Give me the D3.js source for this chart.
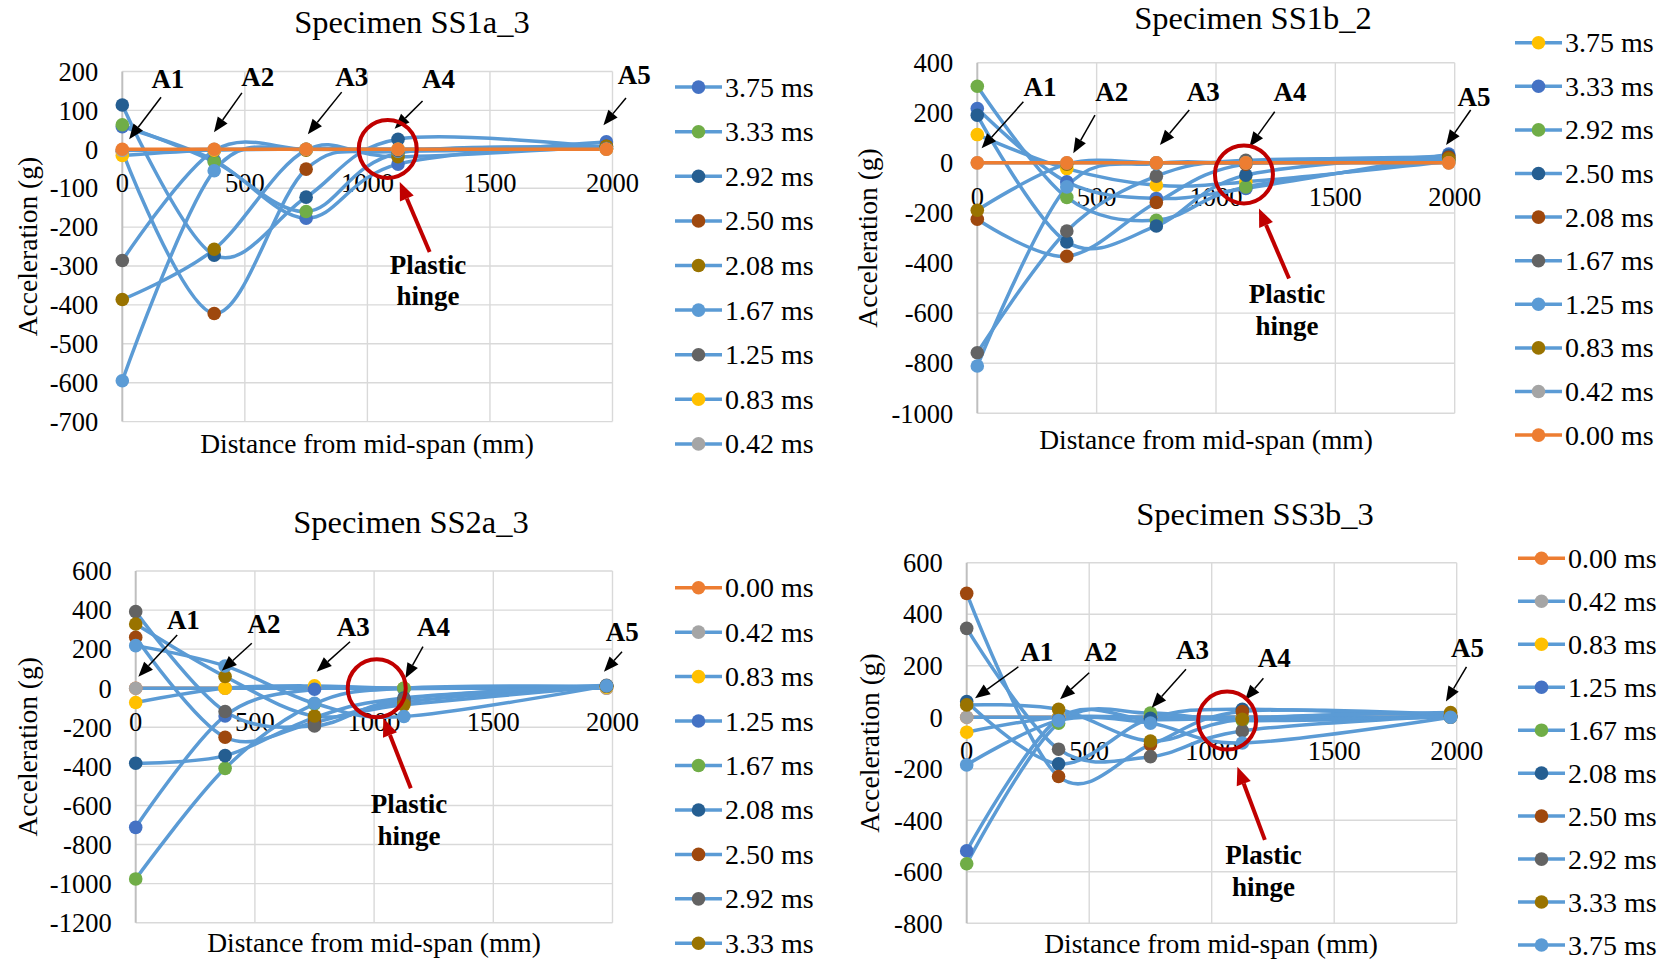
<!DOCTYPE html>
<html lang="en">
<head>
<meta charset="UTF-8">
<title>Acceleration along the span</title>
<script src="https://d3js.org/d3.v7.min.js"></script>
<style>
  body { margin: 0; background: #fff; }
  text { font-family: "Liberation Serif", "Times New Roman", serif; fill: #000; }
</style>
</head>
<body>
<div id="chart"></div>
<script>
// accelerometer positions A1..A5, distance from mid-span (mm)
const distances = [0, 375, 750, 1125, 1975];
const sensorNames = ["A1", "A2", "A3", "A4", "A5"];
const xTicks = [0, 500, 1000, 1500, 2000];

// excel-ish palette
const C = {
  blue: "#4472C4", orange: "#ED7D31", gray: "#A5A5A5", yellow: "#FFC000",
  lblue: "#5B9BD5", green: "#70AD47", dblue: "#255E91", brown: "#9E480E",
  dgray: "#636363", olive: "#997300"
};

// ---- SS1a_3 ----
const ss1aTimes = ["3.75 ms", "3.33 ms", "2.92 ms", "2.50 ms", "2.08 ms", "1.67 ms", "1.25 ms", "0.83 ms", "0.42 ms", "0.00 ms"];
const ss1aMarkers = [C.blue, C.green, C.dblue, C.brown, C.olive, C.lblue, C.dgray, C.yellow, C.gray, C.orange];
const ss1aValues = [
  [58, -28, -177, -38, 19],
  [63, -32, -160, -10, 2],
  [114, -272, -123, 26, 5],
  [-5, -422, -51, -5, 8],
  [-386, -257, -2, -19, 8],
  [-595, -55, 0, -5, 2],
  [-286, -3, 0, -3, 2],
  [-16, -2, 0, 0, 0],
  [-3, 0, 0, 0, 0],
  [0, 0, 0, 0, 0]
];
const ss1aYTicks = [200, 100, 0, -100, -200, -300, -400, -500, -600, -700];

// ---- SS1b_2 ----
const ss1bTimes = ["3.75 ms", "3.33 ms", "2.92 ms", "2.50 ms", "2.08 ms", "1.67 ms", "1.25 ms", "0.83 ms", "0.42 ms", "0.00 ms"];
const ss1bMarkers = [C.yellow, C.blue, C.green, C.dblue, C.brown, C.dgray, C.lblue, C.olive, C.gray, C.orange];
const ss1bValues = [
  [113, -23, -89, -76, 5],
  [217, -76, -142, -102, 35],
  [306, -138, -229, -96, 12],
  [190, -316, -252, -49, 28],
  [-225, -373, -158, -5, 22],
  [-758, -272, -53, 10, 12],
  [-811, -96, -3, 0, 3],
  [-189, -5, 0, 0, 16],
  [0, 0, 0, 0, 0],
  [0, 0, 0, 0, 0]
];
const ss1bYTicks = [400, 200, 0, -200, -400, -600, -800, -1000];

// ---- SS2a_3 ----
const ss2aTimes = ["0.00 ms", "0.42 ms", "0.83 ms", "1.25 ms", "1.67 ms", "2.08 ms", "2.50 ms", "2.92 ms", "3.33 ms", "3.75 ms"];
const ss2aMarkers = [C.orange, C.gray, C.yellow, C.blue, C.green, C.dblue, C.brown, C.dgray, C.olive, C.lblue];
const ss2aValues = [
  [0, 0, 0, 0, 0],
  [0, 0, 0, 0, 0],
  [-73, 0, 12, 0, 5],
  [-712, -142, -5, -3, 10],
  [-976, -410, -80, 0, 10],
  [-384, -345, -150, -50, 12],
  [261, -251, -175, -70, 10],
  [392, -119, -193, -55, 15],
  [329, 60, -142, -85, 10],
  [218, 114, -77, -145, 12]
];
const ss2aYTicks = [600, 400, 200, 0, -200, -400, -600, -800, -1000, -1200];

// ---- SS3b_3 ----
const ss3bTimes = ["0.00 ms", "0.42 ms", "0.83 ms", "1.25 ms", "1.67 ms", "2.08 ms", "2.50 ms", "2.92 ms", "3.33 ms", "3.75 ms"];
const ss3bMarkers = [C.orange, C.gray, C.yellow, C.blue, C.green, C.dblue, C.brown, C.dgray, C.olive, C.lblue];
const ss3bValues = [
  [0, 0, 0, 0, 0],
  [0, 0, 0, 0, 0],
  [-58, 0, 0, 0, 0],
  [-519, -5, -10, -5, 0],
  [-569, -23, 16, -13, 2],
  [61, -181, -4, 31, 5],
  [481, -230, -107, 22, 10],
  [345, -124, -153, -53, 5],
  [48, 31, -92, -8, 18],
  [-185, -13, -23, -100, 0]
];
const ss3bYTicks = [600, 400, 200, 0, -200, -400, -600, -800];

// annotation anchors, in data units [mm, g]
const ss1aNotes = {
  labels: [[186, 183], [553, 186], [936, 186], [1290, 181], [2089, 191]],
  arrows: [[[158, 134], [28, 26]], [[488, 145], [374, 44]], [[895, 147], [757, 39]], [[1225, 124], [1111, 53]], [[2055, 132], [1963, 62]]],
  ring: [1083, 1], hinge: [[1254, -264], [1132, -84]], text: [[1247, -295], [1247, -377]]
};
const ss1bNotes = {
  labels: [[263, 304], [563, 284], [947, 284], [1310, 286], [2081, 264]],
  arrows: [[[193, 244], [18, 58]], [[493, 191], [402, 38]], [[888, 211], [765, 71]], [[1246, 204], [1140, 64]], [[2067, 211], [1964, 71]]],
  ring: [1117, -46], hinge: [[1306, -462], [1180, -182]], text: [[1297, -521], [1297, -649]]
};
const ss2aNotes = {
  labels: [[200, 350], [538, 333], [913, 315], [1249, 315], [2041, 289]],
  arrows: [[[174, 273], [11, 59]], [[487, 230], [361, 90]], [[899, 238], [759, 85]], [[1205, 213], [1131, 51]], [[2040, 187], [1964, 85]]],
  ring: [1011, 0], hinge: [[1154, -512], [1039, -154]], text: [[1146, -592], [1146, -755]]
};
const ss3bNotes = {
  labels: [[286, 255], [547, 255], [922, 261], [1255, 231], [2044, 270]],
  arrows: [[[211, 196], [34, 74]], [[500, 173], [381, 70]], [[895, 186], [755, 37]], [[1211, 151], [1136, 67]], [[2040, 196], [1956, 61]]],
  ring: [1063, -13], hinge: [[1217, -476], [1105, -192]], text: [[1211, -534], [1211, -657]]
};

const panels = [
  { title: "Specimen SS1a_3", times: ss1aTimes, values: ss1aValues, markers: ss1aMarkers, yTicks: ss1aYTicks, notes: ss1aNotes, legendCount: 9,
    box: { l: 122.3, r: 612.5, t: 71.5, b: 421.6 }, titleAt: [412, 33], yTitleX: 27, xTitleAt: [367, 453], legend: { x: 675, y: 87.1, step: 44.6 } },
  { title: "Specimen SS1b_2", times: ss1bTimes, values: ss1bValues, markers: ss1bMarkers, yTicks: ss1bYTicks, notes: ss1bNotes, legendCount: 10,
    box: { l: 977.3, r: 1454.7, t: 62.7, b: 413.3 }, titleAt: [1253, 28.5], yTitleX: 867, xTitleAt: [1206, 448.5], legend: { x: 1515, y: 42.7, step: 43.6 } },
  { title: "Specimen SS2a_3", times: ss2aTimes, values: ss2aValues, markers: ss2aMarkers, yTicks: ss2aYTicks, notes: ss2aNotes, legendCount: 9,
    box: { l: 135.7, r: 612.5, t: 571, b: 922.7 }, titleAt: [411, 533], yTitleX: 27, xTitleAt: [374, 952], legend: { x: 675, y: 587.7, step: 44.45 } },
  { title: "Specimen SS3b_3", times: ss3bTimes, values: ss3bValues, markers: ss3bMarkers, yTicks: ss3bYTicks, notes: ss3bNotes, legendCount: 10,
    box: { l: 966.7, r: 1456.7, t: 562.7, b: 923.3 }, titleAt: [1255, 525], yTitleX: 869, xTitleAt: [1211, 953], legend: { x: 1518, y: 558.3, step: 42.97 } }
];

const W = 1665, H = 964;
const svg = d3.select("#chart").append("svg").attr("width", W).attr("height", H);

function arrow(g, p1, p2, color, width, headLen, headW) {
  const a = Math.atan2(p2[1] - p1[1], p2[0] - p1[0]);
  const bx = p2[0] - headLen * Math.cos(a), by = p2[1] - headLen * Math.sin(a);
  g.append("line")
    .attr("x1", p1[0]).attr("y1", p1[1]).attr("x2", bx).attr("y2", by)
    .attr("stroke", color).attr("stroke-width", width);
  const nx = Math.sin(a) * headW / 2, ny = -Math.cos(a) * headW / 2;
  g.append("polygon")
    .attr("points", [[p2[0], p2[1]], [bx + nx, by + ny], [bx - nx, by - ny]].map(p => p.join(",")).join(" "))
    .attr("fill", color);
}

panels.forEach(p => {
  const g = svg.append("g");
  const x = d3.scaleLinear().domain([0, 2000]).range([p.box.l, p.box.r]);
  const yMin = d3.min(p.yTicks), yMax = d3.max(p.yTicks);
  const y = d3.scaleLinear().domain([yMin, yMax]).range([p.box.b, p.box.t]);

  // gridlines
  g.selectAll(".hgrid").data(p.yTicks).join("line")
    .attr("x1", x(0)).attr("x2", x(2000))
    .attr("y1", d => y(d)).attr("y2", d => y(d))
    .attr("stroke", "#D9D9D9").attr("stroke-width", 1.4);
  g.selectAll(".vgrid").data(xTicks).join("line")
    .attr("x1", d => x(d)).attr("x2", d => x(d))
    .attr("y1", y(yMax)).attr("y2", y(yMin))
    .attr("stroke", d => d === 0 ? "#BFBFBF" : "#D9D9D9").attr("stroke-width", d => d === 0 ? 2 : 1.4);

  // tick labels
  g.selectAll(".ylab").data(p.yTicks).join("text")
    .attr("x", p.box.l - 24).attr("y", d => y(d)).attr("dy", "0.35em")
    .attr("text-anchor", "end").attr("font-size", 26.5).text(d => String(d));
  g.selectAll(".xlab").data(xTicks).join("text")
    .attr("x", d => x(d)).attr("y", y(0) + 43)
    .attr("text-anchor", "middle").attr("font-size", 26.5).text(d => String(d));

  // titles
  g.append("text").attr("x", p.titleAt[0]).attr("y", p.titleAt[1])
    .attr("text-anchor", "middle").attr("font-size", 32.5).text(p.title);
  g.append("text").attr("transform", `translate(${p.yTitleX},${(p.box.t + p.box.b) / 2}) rotate(-90)`)
    .attr("dy", "0.35em").attr("text-anchor", "middle").attr("font-size", 27.5).text("Acceleration (g)");
  g.append("text").attr("x", p.xTitleAt[0]).attr("y", p.xTitleAt[1])
    .attr("text-anchor", "middle").attr("font-size", 27.5).text("Distance from mid-span (mm)");

  // series
  const series = p.times.map((t, i) => ({
    name: t, color: p.markers[i],
    stroke: t === "0.00 ms" ? C.orange : C.lblue,
    pts: p.values[i].map((v, k) => ({ d: distances[k], v }))
  }));
  const line = d3.line().x(d => x(d.d)).y(d => y(d.v)).curve(d3.curveCardinal.tension(0));

  g.selectAll(".series").data(series).join("path")
    .attr("d", s => line(s.pts)).attr("fill", "none")
    .attr("stroke", s => s.stroke).attr("stroke-width", 3.5);
  series.forEach(s => {
    g.selectAll(null).data(s.pts).join("circle")
      .attr("cx", d => x(d.d)).attr("cy", d => y(d.v)).attr("r", 6.8)
      .attr("fill", s.color);
  });

  // annotations
  const n = p.notes;
  const P = q => [x(q[0]), y(q[1])];
  n.labels.forEach((q, i) => {
    g.append("text").attr("x", x(q[0])).attr("y", y(q[1])).attr("dy", "0.35em")
      .attr("text-anchor", "middle").attr("font-size", 27).attr("font-weight", "bold")
      .text(sensorNames[i]);
  });
  n.arrows.forEach(a => arrow(g, P(a[0]), P(a[1]), "#000", 1.5, 15, 12));
  g.append("circle").attr("cx", x(n.ring[0])).attr("cy", y(n.ring[1])).attr("r", 29)
    .attr("fill", "none").attr("stroke", "#C00000").attr("stroke-width", 4);
  arrow(g, P(n.hinge[0]), P(n.hinge[1]), "#C00000", 4, 18, 15);
  ["Plastic", "hinge"].forEach((t, i) => {
    g.append("text").attr("x", x(n.text[i][0])).attr("y", y(n.text[i][1])).attr("dy", "0.35em")
      .attr("text-anchor", "middle").attr("font-size", 27).attr("font-weight", "bold").text(t);
  });

  // legend
  const lg = g.append("g");
  series.slice(0, p.legendCount).forEach((s, i) => {
    const ly = p.legend.y + i * p.legend.step;
    lg.append("line").attr("x1", p.legend.x).attr("x2", p.legend.x + 47)
      .attr("y1", ly).attr("y2", ly).attr("stroke", s.stroke).attr("stroke-width", 3.5);
    lg.append("circle").attr("cx", p.legend.x + 23.5).attr("cy", ly).attr("r", 6.8).attr("fill", s.color);
    lg.append("text").attr("x", p.legend.x + 50).attr("y", ly).attr("dy", "0.34em")
      .attr("font-size", 28).text(s.name);
  });
});
</script>
</body>
</html>
